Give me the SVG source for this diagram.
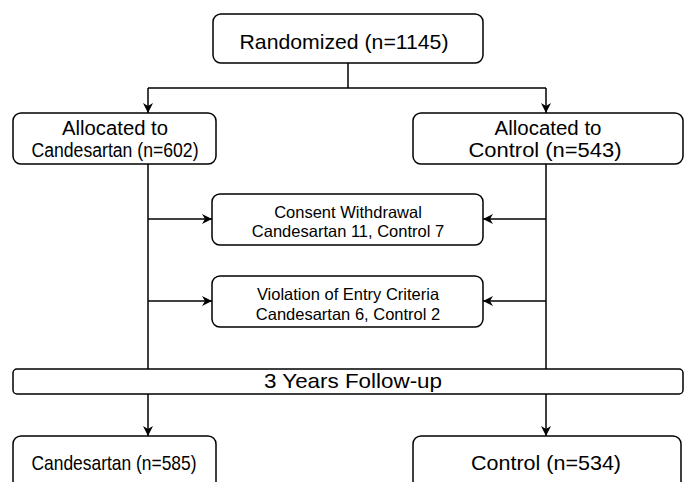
<svg xmlns="http://www.w3.org/2000/svg" width="686" height="482" viewBox="0 0 686 482">
<style>
  .box { fill: #fff; stroke: #000; stroke-width: 1.5; }
  .big { font-family: "Liberation Sans", Arial, sans-serif; font-size: 21px; fill: #000; text-anchor: middle; }
  .two { font-family: "Liberation Sans", Arial, sans-serif; font-size: 20px; fill: #000; text-anchor: middle; }
  .small { font-family: "Liberation Sans", Arial, sans-serif; font-size: 16.5px; fill: #000; text-anchor: middle; }
  .line { fill: none; stroke: #000; stroke-width: 1.5; }
</style>
<defs>
  <marker id="arr" viewBox="0 0 10 10" refX="10" refY="5" markerWidth="10" markerHeight="10" markerUnits="userSpaceOnUse" orient="auto">
    <path d="M0,0 L10,5 L0,10 L3,5 z" fill="#000"/>
  </marker>
</defs>
<rect width="686" height="482" fill="#fff"/>
<g id="connectors">
  <path class="line" d="M348,63 V88 M148,88 H546"/>
  <path class="line" d="M148,88 V113" marker-end="url(#arr)"/>
  <path class="line" d="M546,88 V113" marker-end="url(#arr)"/>
  <path class="line" d="M148,164 V369"/>
  <path class="line" d="M546,164 V369"/>
  <path class="line" d="M148,219 H212" marker-end="url(#arr)"/>
  <path class="line" d="M546,219 H483" marker-end="url(#arr)"/>
  <path class="line" d="M148,301 H212" marker-end="url(#arr)"/>
  <path class="line" d="M546,301 H483" marker-end="url(#arr)"/>
  <path class="line" d="M148,394 V436" marker-end="url(#arr)"/>
  <path class="line" d="M546,394 V436" marker-end="url(#arr)"/>
</g>
<g id="randomized">
  <rect class="box" x="213" y="14" width="270" height="49" rx="8"/>
  <text class="big" x="344" y="49" textLength="209" lengthAdjust="spacingAndGlyphs">Randomized (n=1145)</text>
</g>
<g id="alloc-candesartan">
  <rect class="box" x="13" y="113" width="203" height="51" rx="8"/>
  <text class="two" x="115" y="135" textLength="106" lengthAdjust="spacingAndGlyphs">Allocated to</text>
  <text class="two" x="115" y="157" textLength="167" lengthAdjust="spacingAndGlyphs">Candesartan (n=602)</text>
</g>
<g id="alloc-control">
  <rect class="box" x="413" y="113" width="270" height="51" rx="8"/>
  <text class="two" x="548" y="135" textLength="107" lengthAdjust="spacingAndGlyphs">Allocated to</text>
  <text class="two" x="545" y="157" textLength="153" lengthAdjust="spacingAndGlyphs">Control (n=543)</text>
</g>
<g id="consent">
  <rect class="box" x="212" y="194" width="271" height="51" rx="8"/>
  <text class="small" x="348" y="218">Consent Withdrawal</text>
  <text class="small" x="348" y="237">Candesartan 11, Control 7</text>
</g>
<g id="violation">
  <rect class="box" x="212" y="276" width="271" height="51" rx="8"/>
  <text class="small" x="348" y="300">Violation of Entry Criteria</text>
  <text class="small" x="348" y="319.5">Candesartan 6, Control 2</text>
</g>
<g id="followup">
  <rect class="box" x="13" y="369" width="670" height="25" rx="4"/>
  <text class="big" x="353" y="388" textLength="178" lengthAdjust="spacingAndGlyphs">3 Years Follow-up</text>
</g>
<g id="final-candesartan">
  <rect class="box" x="13" y="436" width="203" height="60" rx="8"/>
  <text class="big" x="114" y="470" textLength="165" lengthAdjust="spacingAndGlyphs">Candesartan (n=585)</text>
</g>
<g id="final-control">
  <rect class="box" x="413" y="436" width="268" height="60" rx="8"/>
  <text class="big" x="546" y="470" textLength="150" lengthAdjust="spacingAndGlyphs">Control (n=534)</text>
</g>
</svg>
